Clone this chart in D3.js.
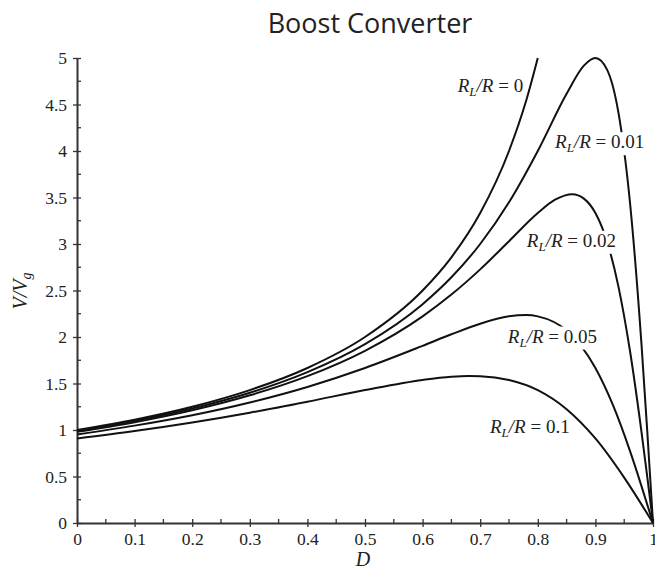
<!DOCTYPE html>
<html>
<head>
<meta charset="utf-8">
<script src="https://cdn.jsdelivr.net/npm/d3@7"></script>
<style>
  body { margin: 0; background: #fff; }
  svg { display: block; }
</style>
</head>
<body>
<div id="chart"></div>
<script>
// Boost converter: V/Vg vs duty cycle D, for several RL/R ratios

var ratios = ["0", "0.01", "0.02", "0.05", "0.1"];

var d0 = [0, 0.1, 0.2, 0.3, 0.4, 0.5, 0.6, 0.65, 0.7, 0.75, 0.78, 0.8];
var v0 = [1, 1.111, 1.25, 1.429, 1.667, 2, 2.5, 2.857, 3.333, 4, 4.545, 5];

var d01 = [0, 0.1, 0.2, 0.3, 0.4, 0.5, 0.6, 0.65, 0.7, 0.75, 0.8, 0.85, 0.88, 0.9, 0.92, 0.94, 0.96, 0.98, 0.99, 1];
var v01 = [0.99, 1.098, 1.231, 1.4, 1.622, 1.923, 2.353, 2.642, 3.0, 3.448, 4.0, 4.615, 4.918, 5.0, 4.878, 4.412, 3.448, 1.923, 0.99, 0];

var d02 = [0, 0.1, 0.2, 0.3, 0.4, 0.5, 0.6, 0.65, 0.7, 0.75, 0.8, 0.83, 0.86, 0.88, 0.9, 0.92, 0.94, 0.96, 0.98, 0.99, 1];
var v02 = [0.98, 1.084, 1.212, 1.373, 1.579, 1.852, 2.222, 2.456, 2.727, 3.03, 3.333, 3.476, 3.535, 3.488, 3.333, 3.03, 2.542, 1.852, 0.98, 0.498, 0];

var d05 = [0, 0.1, 0.2, 0.3, 0.4, 0.5, 0.6, 0.65, 0.7, 0.75, 0.78, 0.8, 0.85, 0.9, 0.93, 0.96, 0.98, 1];
var v05 = [0.952, 1.047, 1.159, 1.296, 1.463, 1.667, 1.905, 2.029, 2.143, 2.222, 2.236, 2.222, 2.069, 1.667, 1.275, 0.775, 0.397, 0];

var d1 = [0, 0.1, 0.2, 0.3, 0.4, 0.5, 0.6, 0.65, 0.68, 0.7, 0.75, 0.8, 0.85, 0.9, 0.95, 1];
var v1 = [0.909, 0.989, 1.081, 1.186, 1.304, 1.429, 1.538, 1.573, 1.581, 1.579, 1.538, 1.429, 1.224, 0.909, 0.488, 0];

// label anchor (D, V) for each curve
var labelD = [0.661, 0.83, 0.781, 0.748, 0.717];
var labelV = [4.63, 4.03, 2.97, 1.94, 0.97];

var xTicks = [0, 0.1, 0.2, 0.3, 0.4, 0.5, 0.6, 0.7, 0.8, 0.9, 1];
var yTicks = [0, 0.5, 1, 1.5, 2, 2.5, 3, 3.5, 4, 4.5, 5];

var series = [[d0, v0], [d01, v01], [d02, v02], [d05, v05], [d1, v1]];

var serif = "'Liberation Serif', 'Times New Roman', serif";
var width = 655, height = 575;
var x = d3.scaleLinear().domain([0, 1]).range([77, 653]);
var y = d3.scaleLinear().domain([0, 5]).range([523, 58]);

var svg = d3.select("#chart").append("svg")
  .attr("width", width)
  .attr("height", height);

svg.append("text")
  .attr("x", 370)
  .attr("y", 33)
  .attr("text-anchor", "middle")
  .style("font-family", "'Open Sans', 'Noto Sans', sans-serif")
  .style("font-size", "27px")
  .style("fill", "#222")
  .text("Boost Converter");

// minor ticks first, so major ones sit on top
var minorX = d3.range(0.05, 1, 0.1);
var minorY = d3.range(0.25, 5, 0.5);

svg.append("g").selectAll("line").data(minorX).enter().append("line")
  .attr("x1", d => x(d)).attr("x2", d => x(d))
  .attr("y1", y(0)).attr("y2", y(0) - 4)
  .attr("stroke", "#333").attr("stroke-width", 1.3);

svg.append("g").selectAll("line").data(minorY).enter().append("line")
  .attr("x1", x(0)).attr("x2", x(0) + 4)
  .attr("y1", d => y(d)).attr("y2", d => y(d))
  .attr("stroke", "#333").attr("stroke-width", 1.3);

var xAxis = svg.append("g")
  .attr("transform", "translate(0," + y(0) + ")")
  .call(d3.axisBottom(x).tickValues(xTicks).tickFormat(d3.format("")).tickSizeInner(4).tickSizeOuter(0).tickPadding(6));

var yAxis = svg.append("g")
  .attr("transform", "translate(" + x(0) + ",0)")
  .call(d3.axisLeft(y).tickValues(yTicks).tickFormat(d3.format("")).tickSizeInner(4).tickSizeOuter(0).tickPadding(6));

[xAxis, yAxis].forEach(function(g) {
  g.attr("font-family", null).attr("font-size", null);
  g.select(".domain").attr("stroke", "#333").attr("stroke-width", 2);
  g.selectAll(".tick line").attr("stroke", "#333").attr("stroke-width", 1.3);
  g.selectAll(".tick text")
    .style("font-family", serif)
    .style("font-size", "17.5px")
    .style("fill", "#222");
});
// major ticks cross the axis
xAxis.selectAll(".tick line").attr("y1", -4);
yAxis.selectAll(".tick line").attr("x1", 4);

var line = d3.line()
  .x(d => x(d[0]))
  .y(d => y(d[1]))
  .curve(d3.curveMonotoneX);

series.forEach(function(s) {
  var pts = s[0].map((d, i) => [d, s[1][i]]);
  svg.append("path")
    .datum(pts)
    .attr("d", line)
    .attr("fill", "none")
    .attr("stroke", "#111")
    .attr("stroke-width", 2);
});

// curve labels, each on a white patch that breaks the curve behind it
ratios.forEach(function(r, i) {
  var g = svg.append("g");
  var bg = g.append("rect").attr("fill", "#fff");
  var t = g.append("text")
    .attr("x", x(labelD[i]))
    .attr("y", y(labelV[i]))
    .style("font-family", serif)
    .style("font-size", "19px")
    .style("fill", "#222");
  t.append("tspan").style("font-style", "italic").text("R");
  t.append("tspan").style("font-style", "italic").style("font-size", "13px").attr("dy", 4).text("L");
  t.append("tspan").style("font-style", "italic").attr("dy", -4).text("/R");
  t.append("tspan").text(" = " + r);
  var b = t.node().getBBox();
  bg.attr("x", b.x - 2).attr("y", b.y + 1)
    .attr("width", b.width + 4).attr("height", b.height - 1);
});

// axis titles
svg.append("text")
  .attr("x", 363)
  .attr("y", 566)
  .attr("text-anchor", "middle")
  .style("font-family", serif)
  .style("font-style", "italic")
  .style("font-size", "20px")
  .style("fill", "#222")
  .text("D");

var yl = svg.append("text")
  .attr("transform", "translate(27,291) rotate(-90)")
  .attr("text-anchor", "middle")
  .style("font-family", serif)
  .style("font-style", "italic")
  .style("font-size", "20px")
  .style("fill", "#222");
yl.append("tspan").text("V/V");
yl.append("tspan").style("font-size", "14px").attr("dy", 4).text("g");
</script>
</body>
</html>
